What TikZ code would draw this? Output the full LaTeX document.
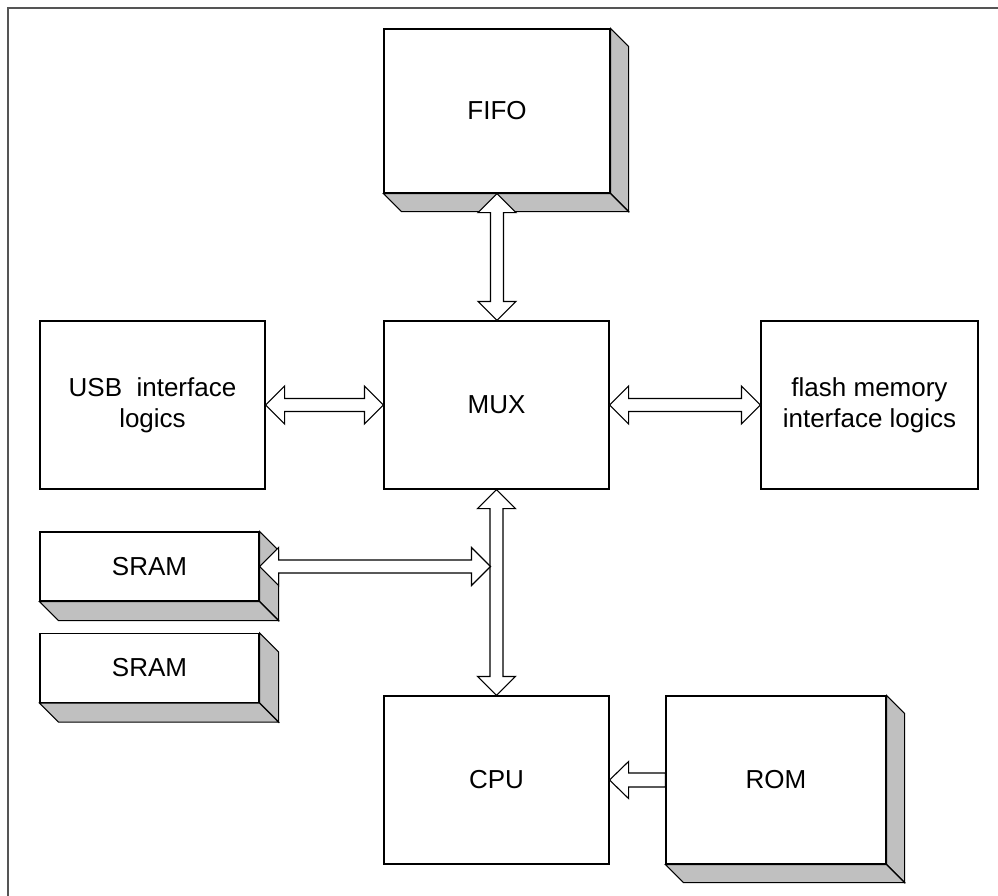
\documentclass[tikz,border=0pt]{standalone}
\usepackage{fontspec}
\setmainfont{Liberation Sans}
\usetikzlibrary{calc}
\definecolor{shadegray}{HTML}{C0C0C0}
\definecolor{framecol}{HTML}{555555}
\tikzset{
  blk/.style={draw=black, line width=1.1bp, fill=white, rectangle, inner sep=0pt,
    align=center, font=\fontsize{26bp}{31bp}\selectfont},
  face/.style={draw=black, line width=1.1bp, fill=shadegray, line join=miter},
  hollow/.style={draw=black, line width=1.1bp, fill=white, line join=miter},
}
% 3D extrusion of a named box: #1 = node name, #2 = depth (bp)
\newcommand\extrude[2]{%
  \filldraw[face] (#1.north east) -- ($(#1.north east)+(#2bp,-#2bp)$) --
     ($(#1.south east)+(#2bp,-#2bp)$) -- (#1.south east) -- cycle;
  \filldraw[face] (#1.south west) -- ($(#1.south west)+(#2bp,-#2bp)$) --
     ($(#1.south east)+(#2bp,-#2bp)$) -- (#1.south east) -- cycle;}
% horizontal double arrow, #1 left end, #2 right end
\newcommand\hdarrow[2]{%
  \draw[hollow] let \p1=(#1), \p2=(#2) in
   (\x1,\y1) -- (\x1+19bp,\y1+19bp) -- (\x1+19bp,\y1+6.5bp) -- (\x2-19bp,\y1+6.5bp)
   -- (\x2-19bp,\y1+19bp) -- (\x2,\y1) -- (\x2-19bp,\y1-19bp) -- (\x2-19bp,\y1-6.5bp)
   -- (\x1+19bp,\y1-6.5bp) -- (\x1+19bp,\y1-19bp) -- cycle;}
% vertical double arrow, #1 top end, #2 bottom end
\newcommand\vdarrow[2]{%
  \draw[hollow] let \p1=(#1), \p2=(#2) in
   (\x1,\y1) -- (\x1+19bp,\y1-19bp) -- (\x1+6.5bp,\y1-19bp) -- (\x1+6.5bp,\y2+19bp)
   -- (\x1+19bp,\y2+19bp) -- (\x1,\y2) -- (\x1-19bp,\y2+19bp) -- (\x1-6.5bp,\y2+19bp)
   -- (\x1-6.5bp,\y1-19bp) -- (\x1-19bp,\y1-19bp) -- cycle;}
% single arrow pointing left: #1 tip (left), #2 tail (right)
\newcommand\lsarrow[2]{%
  \draw[hollow] let \p1=(#1), \p2=(#2) in
   (\x1,\y1) -- (\x1+19bp,\y1+18.5bp) -- (\x1+19bp,\y1+7bp) -- (\x2,\y1+7bp)
   -- (\x2,\y1-7bp) -- (\x1+19bp,\y1-7bp) -- (\x1+19bp,\y1-18.5bp) -- cycle;}
\begin{document}
\begin{tikzpicture}[x=1bp,y=-1bp]
\useasboundingbox (0,0) rectangle (998,896);
\draw[framecol, line width=1.8bp] (8,896) -- (8,8) -- (998,8);

% boxes
\node[blk, minimum width=226bp, minimum height=164bp] (fifo) at (497,111) {FIFO};
\extrude{fifo}{18}
\node[blk, minimum width=225bp, minimum height=168bp] (mux) at (496.5,405) {MUX};
\node[blk, minimum width=225bp, minimum height=168bp] (usb) at (152.5,405) {USB\ \ interface\\logics};
\node[blk, minimum width=217bp, minimum height=168bp] (flash) at (869.5,405) {flash memory\\interface logics};
\node[blk, minimum width=219bp, minimum height=69bp] (sram1) at (149.5,566.5) {SRAM};
\extrude{sram1}{19}
\node[blk, minimum width=219bp, minimum height=69bp] (sram2) at (149.5,668) {SRAM};
\extrude{sram2}{19}
\node[blk, minimum width=225bp, minimum height=168bp] (cpu) at (496.5,780) {CPU};
\node[blk, minimum width=220bp, minimum height=168bp] (rom) at (776,780) {ROM};
\extrude{rom}{18}

% connectors
\vdarrow{fifo.south}{mux.north}
\hdarrow{usb.east}{mux.west}
\hdarrow{mux.east}{flash.west}
\vdarrow{mux.south}{cpu.north}
\coordinate (bus) at (490.5,566.5);
\hdarrow{sram1.east}{bus}
\lsarrow{cpu.east}{rom.west}
\end{tikzpicture}
\end{document}
